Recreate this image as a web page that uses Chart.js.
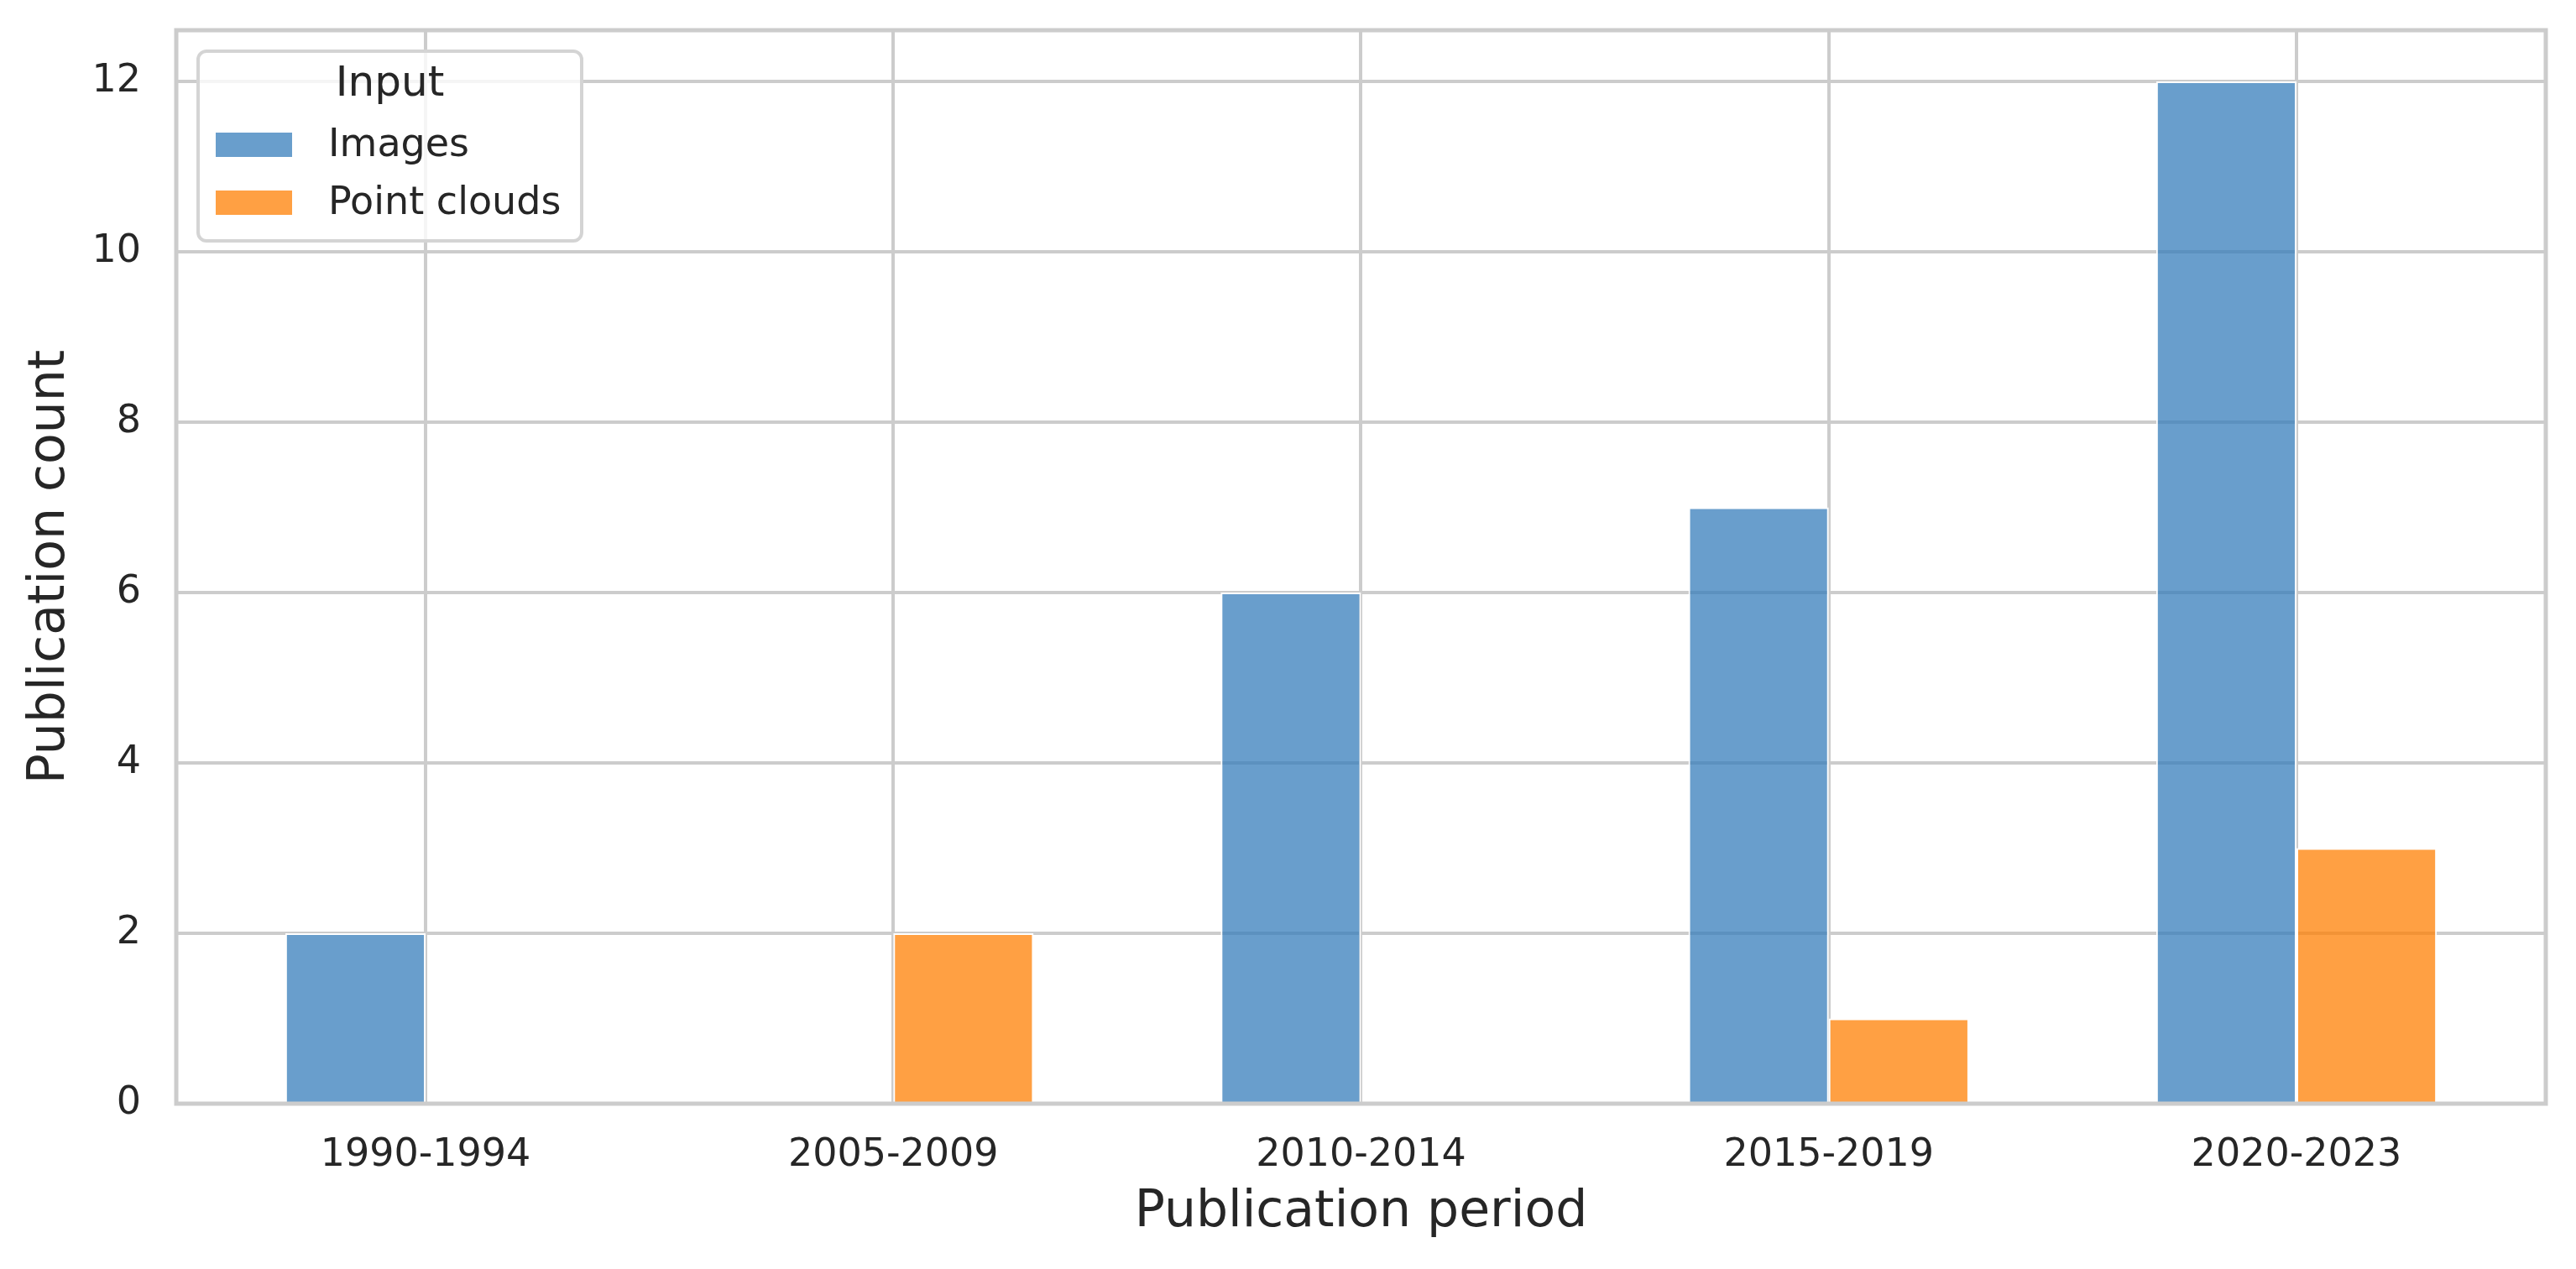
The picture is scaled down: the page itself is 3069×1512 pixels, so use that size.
<!DOCTYPE html>
<html>
<head>
<meta charset="utf-8">
<script src="https://cdn.jsdelivr.net/npm/chart.js@4/dist/chart.umd.min.js"></script>
<style>
html,body{margin:0;padding:0;background:#ffffff;}
#c{display:block;}
</style>
</head>
<body>
<canvas id="c" width="3069" height="1512" style="width:3069px;height:1512px;"></canvas>
<script>
// ---- data ----
const categories = ['1990-1994', '2005-2009', '2010-2014', '2015-2019', '2020-2023'];
const imagesCounts = [2, 0, 6, 7, 12];
const pointCloudCounts = [0, 2, 0, 1, 3];
const yTickValues = [0, 2, 4, 6, 8, 10, 12];
const seriesLabels = ['Images', 'Point clouds'];
const legendTitle = 'Input';
const xTitle = 'Publication period';
const yTitle = 'Publication count';

// ---- styles ----
const FONT = "'DejaVu Sans', sans-serif";
const TEXT = '#262626';
const GRID = '#cccccc';
const blueFill = 'rgba(55,125,187,0.75)';
const orangeFill = 'rgba(255,128,4,0.75)';

const frameAndLegend = {
  id: 'frameAndLegend',
  afterDatasetsDraw(chart) {
    const ctx = chart.ctx;
    const a = chart.chartArea;
    ctx.save();
    ctx.strokeStyle = GRID;
    ctx.lineWidth = 5;
    ctx.strokeRect(a.left, a.top, a.right - a.left, a.bottom - a.top);
    ctx.restore();
  },
  afterDraw(chart) {
    const ctx = chart.ctx;
    const a = chart.chartArea;
    // legend box
    const bx = a.left + 26, by = a.top + 25, bw = 457, bh = 226, r = 10;
    ctx.save();
    ctx.beginPath();
    ctx.moveTo(bx + r, by);
    ctx.lineTo(bx + bw - r, by);
    ctx.arcTo(bx + bw, by, bx + bw, by + r, r);
    ctx.lineTo(bx + bw, by + bh - r);
    ctx.arcTo(bx + bw, by + bh, bx + bw - r, by + bh, r);
    ctx.lineTo(bx + r, by + bh);
    ctx.arcTo(bx, by + bh, bx, by + bh - r, r);
    ctx.lineTo(bx, by + r);
    ctx.arcTo(bx, by, bx + r, by, r);
    ctx.closePath();
    ctx.fillStyle = 'rgba(255,255,255,0.8)';
    ctx.fill();
    ctx.strokeStyle = '#d4d4d4';
    ctx.lineWidth = 4;
    ctx.stroke();
    // title
    ctx.fillStyle = TEXT;
    ctx.font = '50px ' + FONT;
    ctx.textAlign = 'center';
    ctx.textBaseline = 'middle';
    ctx.fillText(legendTitle, bx + bw / 2, by + 40);
    // items
    ctx.font = '46px ' + FONT;
    ctx.textAlign = 'left';
    chart.data.datasets.forEach((ds, i) => {
      const cy = by + 112 + i * 69;
      ctx.fillStyle = ds.backgroundColor;
      ctx.fillRect(bx + 21, cy - 15, 91, 29);
      ctx.fillStyle = TEXT;
      ctx.fillText(ds.label, bx + 155, cy + 1);
    });
    ctx.restore();
  }
};

const toPoints = arr => arr.map((v, i) => ({x: i, y: v}));

new Chart(document.getElementById('c'), {
  type: 'bar',
  data: {
    datasets: [
      {label: seriesLabels[0], data: toPoints(imagesCounts), backgroundColor: blueFill,
       borderColor: '#ffffff', borderWidth: 2, categoryPercentage: 0.6, barPercentage: 1.0},
      {label: seriesLabels[1], data: toPoints(pointCloudCounts), backgroundColor: orangeFill,
       borderColor: '#ffffff', borderWidth: 2, categoryPercentage: 0.6, barPercentage: 1.0}
    ]
  },
  options: {
    responsive: false,
    animation: false,
    devicePixelRatio: 1,
    layout: {padding: {top: 36, right: 36, left: 0, bottom: 0}},
    plugins: {legend: {display: false}, tooltip: {enabled: false}},
    scales: {
      x: {
        type: 'linear',
        min: -0.533,
        max: 4.533,
        offset: false,
        grid: {color: GRID, lineWidth: 4, drawTicks: false, offset: false},
        border: {display: false},
        afterBuildTicks: s => { s.ticks = categories.map((c, i) => ({value: i})); },
        afterFit: s => { s.height = 197; s.paddingLeft = 0; s.paddingRight = 0; },
        ticks: {
          autoSkip: false, maxRotation: 0, padding: 34,
          color: TEXT, font: {family: FONT, size: 46},
          callback: v => categories[v] ?? ''
        },
        title: {display: true, text: xTitle, color: TEXT, font: {family: FONT, size: 60},
               padding: {top: 30, bottom: 31}}
      },
      y: {
        type: 'linear',
        min: 0,
        max: 12.6,
        grid: {color: GRID, lineWidth: 4, drawTicks: false},
        border: {display: false},
        afterBuildTicks: s => { s.ticks = yTickValues.map(v => ({value: v})); },
        afterFit: s => { s.width = 210; s.paddingTop = 0; s.paddingBottom = 0; },
        ticks: {padding: 42, color: TEXT, font: {family: FONT, size: 46}},
        title: {display: true, text: yTitle, color: TEXT, font: {family: FONT, size: 60},
               padding: {top: 24, bottom: 24}}
      }
    }
  },
  plugins: [frameAndLegend]
});
</script>
</body>
</html>
